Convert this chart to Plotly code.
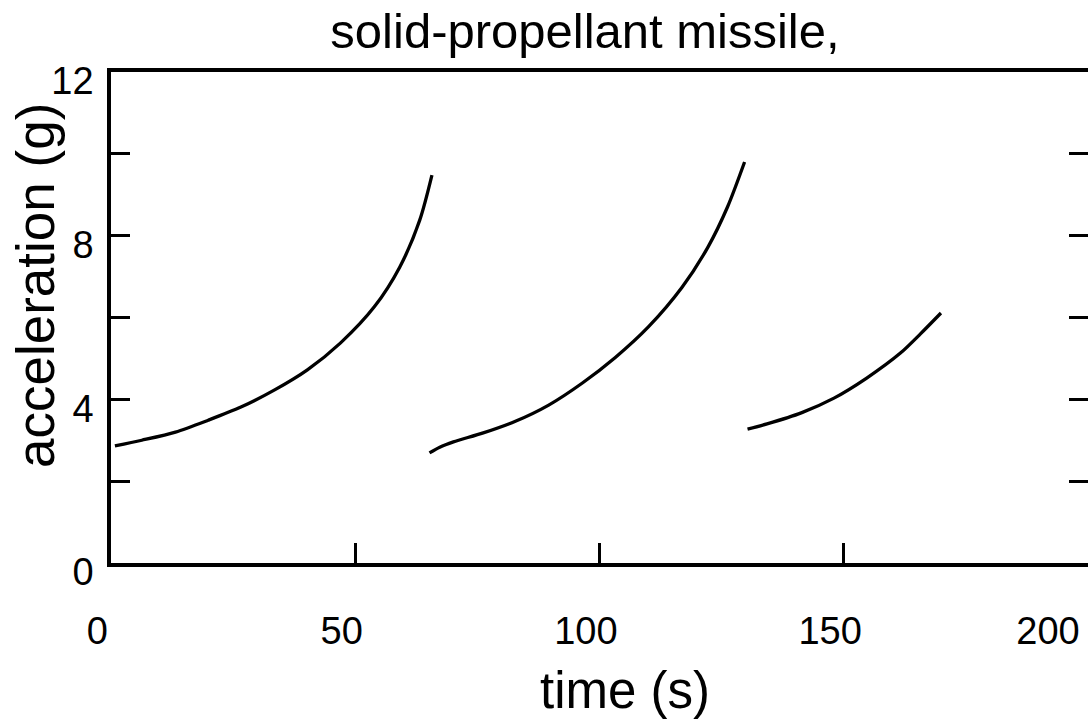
import plotly.graph_objects as go

# Data (time in s, acceleration in g)
t_stage1 = [0.8, 6.3, 13.2, 19.9, 26.6, 33.5, 40.2, 47.0, 53.9, 59.1, 63.2, 65.7]
a_stage1 = [2.86, 3.00, 3.20, 3.49, 3.81, 4.23, 4.72, 5.38, 6.26, 7.23, 8.38, 9.48]

t_stage2 = [65.2, 67.3, 70.1, 76.2, 82.9, 89.6, 96.5, 103.3, 110.0, 116.9, 122.2, 126.2, 129.7]
a_stage2 = [2.69, 2.83, 2.96, 3.18, 3.47, 3.86, 4.40, 5.03, 5.77, 6.74, 7.72, 8.70, 9.80]

t_stage3 = [130.3, 134.3, 141.3, 148.0, 154.7, 161.6, 165.7, 169.9]
a_stage3 = [3.27, 3.40, 3.67, 4.03, 4.52, 5.13, 5.60, 6.11]

x_tickvals = [0, 50, 100, 150, 200]
x_ticklabels = ["0", "50", "100", "150", "200"]
y_tickvals = [0, 2, 4, 6, 8, 10, 12]
y_ticktext = ["0", "", "4", "", "8", "", "12"]

title_text = "solid-propellant missile,"
x_title = "time (s)"
y_title = "acceleration (g)"

NB = "\u00a0"
# labels sit slightly left of their ticks in the reference; the last one is pulled further in
x_ticktext = [NB * 5 + s for s in x_ticklabels[:-1]] + [x_ticklabels[-1]]

TICK_FONT = dict(family="Liberation Sans, Arial, Helvetica", size=38, color="black")
TEXT_FONT = dict(family="Liberation Sans, Arial, Helvetica", size=51, color="black")

fig = go.Figure()
for t, a in [(t_stage1, a_stage1), (t_stage2, a_stage2), (t_stage3, a_stage3)]:
    fig.add_trace(go.Scatter(
        x=t, y=a, mode="lines",
        line=dict(color="black", width=3.3, shape="spline", smoothing=0.8),
        showlegend=False, hoverinfo="skip",
    ))

W, H = 1088, 719
fig.update_layout(
    width=W, height=H,
    margin=dict(l=111, r=0, t=72, b=156, pad=0, autoexpand=False),
    paper_bgcolor="white", plot_bgcolor="white",
    title=dict(text=title_text, font=dict(family=TEXT_FONT["family"], size=49, color="black"),
               x=585 / W, xref="container", xanchor="center",
               y=1 - 31 / H, yref="container", yanchor="middle"),
    showlegend=False,
)
fig.update_xaxes(
    range=[0, 200], tickmode="array", tickvals=x_tickvals, ticktext=x_ticktext,
    ticks="inside", ticklen=20, tickwidth=3, tickcolor="black",
    showline=True, linewidth=3.5, linecolor="black", mirror=True,
    showgrid=False, zeroline=False, automargin=False,
    tickfont=TICK_FONT, ticklabelshift=-40, ticklabelstandoff=32,
    ticklabeloverflow="allow",
)
fig.update_yaxes(
    range=[0, 12], tickmode="array", tickvals=y_tickvals, ticktext=y_ticktext,
    ticks="inside", ticklen=19, tickwidth=3, tickcolor="black",
    showline=True, linewidth=3.5, linecolor="black", mirror="ticks",
    showgrid=False, zeroline=False, automargin=False,
    tickfont=TICK_FONT, ticklabelshift=9, ticklabelstandoff=6,
)
fig.add_annotation(text=x_title, xref="paper", yref="paper", x=(625 - 111) / 977, y=-(690 - 563) / 491,
                   xanchor="center", yanchor="middle", showarrow=False, font=TEXT_FONT)
fig.add_annotation(text=y_title, xref="paper", yref="paper", x=-(111 - 35) / 977, y=(563 - 286) / 491,
                   xanchor="center", yanchor="middle", textangle=-90, showarrow=False,
                   font=dict(family=TEXT_FONT["family"], size=53, color="black"))

fig.write_html("out.html")
